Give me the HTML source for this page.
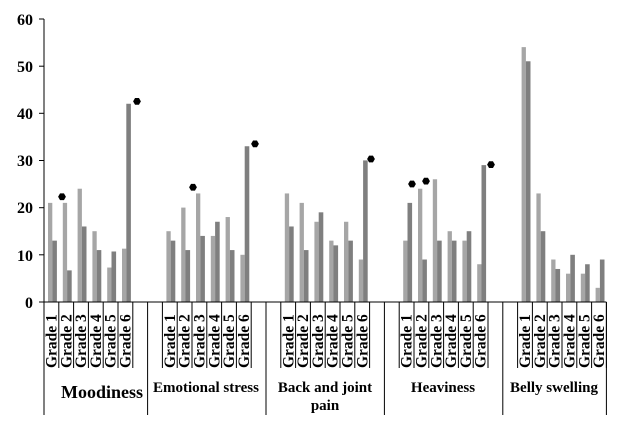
<!DOCTYPE html>
<html><head><meta charset="utf-8"><style>
html,body{margin:0;padding:0;background:#fff;width:626px;height:444px;overflow:hidden}
text{font-family:"Liberation Serif",serif;font-weight:bold;fill:#000}
</style></head><body>
<svg id="s" width="626" height="444" xmlns="http://www.w3.org/2000/svg">
<g id="bars"></g>
<line x1="44" y1="19" x2="44" y2="302" stroke="#000" stroke-width="1"/>
<line x1="44" y1="302" x2="606.4" y2="302" stroke="#000" stroke-width="1"/>
<g stroke="#000" stroke-width="1">
<line x1="39" y1="19" x2="44" y2="19"/><line x1="39" y1="66.2" x2="44" y2="66.2"/><line x1="39" y1="113.3" x2="44" y2="113.3"/><line x1="39" y1="160.5" x2="44" y2="160.5"/><line x1="39" y1="207.7" x2="44" y2="207.7"/><line x1="39" y1="254.8" x2="44" y2="254.8"/><line x1="39" y1="302" x2="44" y2="302"/>
</g>
<g font-size="16" text-anchor="end">
<text x="33" y="25">60</text><text x="33" y="72">50</text><text x="33" y="119">40</text><text x="33" y="166">30</text><text x="33" y="213">20</text><text x="33" y="261">10</text><text x="33" y="308">0</text>
</g>
<g id="lines" stroke="#000" stroke-width="1"></g>
<g font-size="15.5">
<text transform="translate(56.5,368) rotate(-90)">Grade 1</text>
<text transform="translate(71.3,368) rotate(-90)">Grade 2</text>
<text transform="translate(86.1,368) rotate(-90)">Grade 3</text>
<text transform="translate(100.9,368) rotate(-90)">Grade 4</text>
<text transform="translate(115.7,368) rotate(-90)">Grade 5</text>
<text transform="translate(130.5,368) rotate(-90)">Grade 6</text>
<text transform="translate(174.9,368) rotate(-90)">Grade 1</text>
<text transform="translate(189.7,368) rotate(-90)">Grade 2</text>
<text transform="translate(204.5,368) rotate(-90)">Grade 3</text>
<text transform="translate(219.3,368) rotate(-90)">Grade 4</text>
<text transform="translate(234.1,368) rotate(-90)">Grade 5</text>
<text transform="translate(248.9,368) rotate(-90)">Grade 6</text>
<text transform="translate(293.3,368) rotate(-90)">Grade 1</text>
<text transform="translate(308.1,368) rotate(-90)">Grade 2</text>
<text transform="translate(322.9,368) rotate(-90)">Grade 3</text>
<text transform="translate(337.7,368) rotate(-90)">Grade 4</text>
<text transform="translate(352.5,368) rotate(-90)">Grade 5</text>
<text transform="translate(367.3,368) rotate(-90)">Grade 6</text>
<text transform="translate(411.7,368) rotate(-90)">Grade 1</text>
<text transform="translate(426.5,368) rotate(-90)">Grade 2</text>
<text transform="translate(441.3,368) rotate(-90)">Grade 3</text>
<text transform="translate(456.1,368) rotate(-90)">Grade 4</text>
<text transform="translate(470.9,368) rotate(-90)">Grade 5</text>
<text transform="translate(485.7,368) rotate(-90)">Grade 6</text>
<text transform="translate(530.1,368) rotate(-90)">Grade 1</text>
<text transform="translate(544.9,368) rotate(-90)">Grade 2</text>
<text transform="translate(559.7,368) rotate(-90)">Grade 3</text>
<text transform="translate(574.5,368) rotate(-90)">Grade 4</text>
<text transform="translate(589.3,368) rotate(-90)">Grade 5</text>
<text transform="translate(604.1,368) rotate(-90)">Grade 6</text>
</g>
<g text-anchor="middle">
<text x="102" y="398" font-size="18">Moodiness</text>
<text x="206" y="392" font-size="15">Emotional stress</text>
<text x="325" y="392" font-size="15">Back and joint</text>
<text x="325" y="410" font-size="15">pain</text>
<text x="443" y="392" font-size="15">Heaviness</text>
<text x="554" y="392" font-size="15">Belly swelling</text>
</g>
<g id="stars" fill="#000"></g>
</svg>
<script>
var ns="http://www.w3.org/2000/svg";
function el(p,t,a){var e=document.createElementNS(ns,t);for(var k in a)e.setAttribute(k,a[k]);document.getElementById(p).appendChild(e);}
var w=14.8,y0=302,sc=4.72;
var starts=[0,8,16,24,32];
var L=[[21,21,24,15,7.3,11.3],[15,20,23,14,18,10],[23,21,17,13,17,9],[13,24,26,15,13,8],[54,23,9,6,6,3]];
var D=[[13,6.7,16,11,10.7,42],[13,11,14,17,11,33],[16,11,19,12,13,30],[21,9,13,13,15,29],[51,15,7,10,8,9]];
for(var g=0;g<5;g++){for(var i=0;i<6;i++){var x=44+(starts[g]+i)*w;
el("bars","rect",{x:x+4,y:y0-L[g][i]*sc,width:4.3,height:L[g][i]*sc,fill:"#a6a6a6"});
el("bars","rect",{x:x+8.3,y:y0-D[g][i]*sc,width:4.6,height:D[g][i]*sc,fill:"#7f7f7f"});}
for(var i=0;i<=6;i++){var x=44+(starts[g]+i)*w;el("lines","line",{x1:x,y1:302,x2:x,y2:368});}}
[0,7,15,23,31,38].forEach(function(k){var x=44+k*w;el("lines","line",{x1:x,y1:302,x2:x,y2:415});});
[[62,22.3],[137,42.5],[193,24.3],[255,33.5],[371,30.3],[412,25],[426,25.6],[491,29.1]].forEach(function(p){
var cx=p[0],cy=y0-p[1]*sc,r=3.9,pts=[];for(var a=0;a<6;a++){var t=Math.PI/3*a;pts.push((cx+r*Math.cos(t)).toFixed(2)+","+(cy+r*Math.sin(t)).toFixed(2));}
el("stars","polygon",{points:pts.join(" ")});});
</script>
</body></html>
